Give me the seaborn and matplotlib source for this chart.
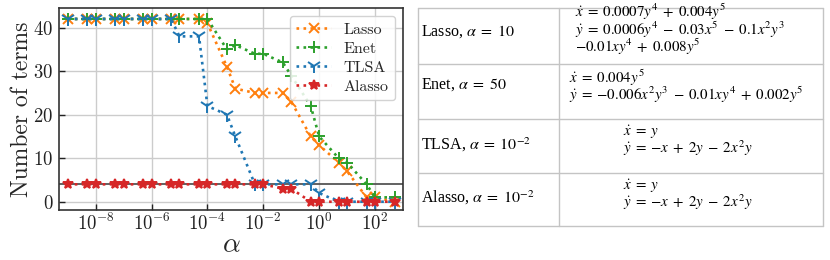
import numpy as np
import pandas as pd
import matplotlib
matplotlib.use("Agg")
import matplotlib.pyplot as plt
import seaborn as sns

# ---------------- data ----------------
alphas = [1e-9, 5e-9, 1e-8, 5e-8, 1e-7, 5e-7, 1e-6, 5e-6, 1e-5, 5e-5,
          1e-4, 5e-4, 1e-3, 5e-3, 1e-2, 5e-2, 1e-1, 5e-1, 1, 5, 10, 50, 100, 500]
lasso = [42, 42, 42, 42, 42, 42, 42, 42, 42, 42,
         41, 31, 26, 25, 25, 25, 23, 15, 13, 9, 7, 1, 1, 0]
enet = [42, 42, 42, 42, 42, 42, 42, 42, 42, 42,
        42, 35, 36, 34, 34, 32, 29, 22, 15, 10, 9, 4, 1, 1]
tlsa = [42, 42, 42, 42, 42, 42, 42, 42, 38, 38,
        22, 20, 15, 4, 4, 4, 4, 4, 2, 0, 0, 0, 0, 0]
alasso = [4, 4, 4, 4, 4, 4, 4, 4, 4, 4,
          4, 4, 4, 4, 4, 3, 3, 0, 0, 0, 0, 0, 0, 0]
true_terms = 4
series_names = ["Lasso", "Enet", "TLSA", "Alasso"]
x_ticks = [1e-8, 1e-6, 1e-4, 1e-2, 1e0, 1e2]
y_ticks = [0, 10, 20, 30, 40]

row_labels = [r"Lasso, $\alpha\;=\;10$", r"Enet, $\alpha\;=\;50$",
              r"TLSA, $\alpha\;=\;10^{-2}$", r"Alasso, $\alpha\;=\;10^{-2}$"]
row_equations = [
    [r"$\dot{x}\;=\;0.0007y^4\;+\;0.004y^5$",
     r"$\dot{y}\;=\;0.0006y^4\;-\;0.03x^5\;-\;0.1x^2y^3$",
     r"${-}0.01xy^4\;+\;0.008y^5$"],
    [r"$\dot{x}\;=\;0.004y^5$",
     r"$\dot{y}\;=\;{-}0.006x^2y^3\;-\;0.01xy^4\;+\;0.002y^5$"],
    [r"$\dot{x}\;=\;y$", r"$\dot{y}\;=\;{-}x\;+\;2y\;-\;2x^2y$"],
    [r"$\dot{x}\;=\;y$", r"$\dot{y}\;=\;{-}x\;+\;2y\;-\;2x^2y$"],
]

# ---------------- style ----------------
sns.set_theme(style="whitegrid")
plt.rcParams["font.family"] = ["cmr10", "DejaVu Serif"]
plt.rcParams["mathtext.fontset"] = "cm"
plt.rcParams["axes.formatter.use_mathtext"] = True
plt.rcParams["axes.unicode_minus"] = True

W, H = 830, 260
fig = plt.figure(figsize=(W / 100, H / 100), dpi=100)

# table axes in pixel coordinates
tab = fig.add_axes([0, 0, 1, 1])
tab.set_xlim(0, W)
tab.set_ylim(H, 0)
tab.axis("off")

ax = fig.add_axes([59 / W, 1 - 210.3 / H, (403.3 - 59) / W, (210.3 - 8.3) / H])

colors = ["#ff7f0e", "#2ca02c", "#1f77b4", "#d62728"]
markers = ["x", "+", "1", "*"]
msizes = [7.5, 8, 10.5, 7.5]
values = [lasso, enet, tlsa, alasso]

ax.axhline(true_terms, color="#555555", lw=1.3, zorder=1)
for name, vals, c, m, ms in zip(series_names, values, colors, markers, msizes):
    df = pd.DataFrame({"alpha": alphas, "terms": vals})
    sns.lineplot(data=df, x="alpha", y="terms", ax=ax, color=c, marker=m,
                 markersize=ms, markeredgewidth=1.4, markeredgecolor=c,
                 linestyle=":", linewidth=1.9, label=name, zorder=3)

ax.set_xscale("log")
ax.set_xlim(10 ** -9.314, 10 ** 3.013)
ax.set_ylim(-1.97, 44.45)
ax.set_xticks(x_ticks)
ax.xaxis.set_minor_locator(matplotlib.ticker.NullLocator())
ax.set_yticks(y_ticks)
ax.tick_params(direction="in", length=4, width=1, labelsize=13.5, colors="#222222",
               bottom=True, left=True, pad=4)
ax.tick_params(axis="x", pad=2)
ax.grid(True, color="#cccccc", lw=1)
for s in ax.spines.values():
    s.set_color("#333333")
    s.set_linewidth(1.2)
ax.set_xlabel(r"$\alpha$", fontsize=20)
ax.xaxis.label.set_va("center")
ax.xaxis.set_label_coords(0.5, -0.17)
ax.set_ylabel("Number of terms", fontsize=17)
ax.yaxis.label.set_va("center")
ax.yaxis.set_label_coords(-0.108, 0.5)

leg = ax.legend(loc="upper right", fontsize=11.5, frameon=True, fancybox=True,
                handlelength=2.2, borderpad=0.4, labelspacing=0.3,
                handletextpad=0.8, borderaxespad=0.5)
leg.get_frame().set_edgecolor("#cccccc")
leg.get_frame().set_facecolor("white")
leg.get_frame().set_alpha(0.85)

# ---------------- table ----------------
lc = "#c4c4c4"
tx0, tx1, tcol = 418.3, 822.7, 559.3
rows_y = [8.3, 64, 118.5, 173, 226]
for y in rows_y:
    tab.plot([tx0, tx1], [y, y], color=lc, lw=1)
for x in [tx0, tcol, tx1]:
    tab.plot([x, x], [rows_y[0], rows_y[-1]], color=lc, lw=1)

eq_x = [575, 569, 623, 623]
label_y = [32, 85, 145, 198]
eq_center = [29.5, 86, 140.5, 195]
for i in range(4):
    tab.text(421, label_y[i], row_labels[i], fontsize=11.5,
             family=["Liberation Serif", "DejaVu Serif"], math_fontfamily="stix",
             va="center", ha="left", color="black")
    tab.text(eq_x[i], eq_center[i], "\n".join(row_equations[i]), fontsize=10.8,
             math_fontfamily="stix", family=["Liberation Serif", "DejaVu Serif"],
             va="center", ha="left", color="black", linespacing=0.8)

fig.savefig("out.png", dpi=100)
